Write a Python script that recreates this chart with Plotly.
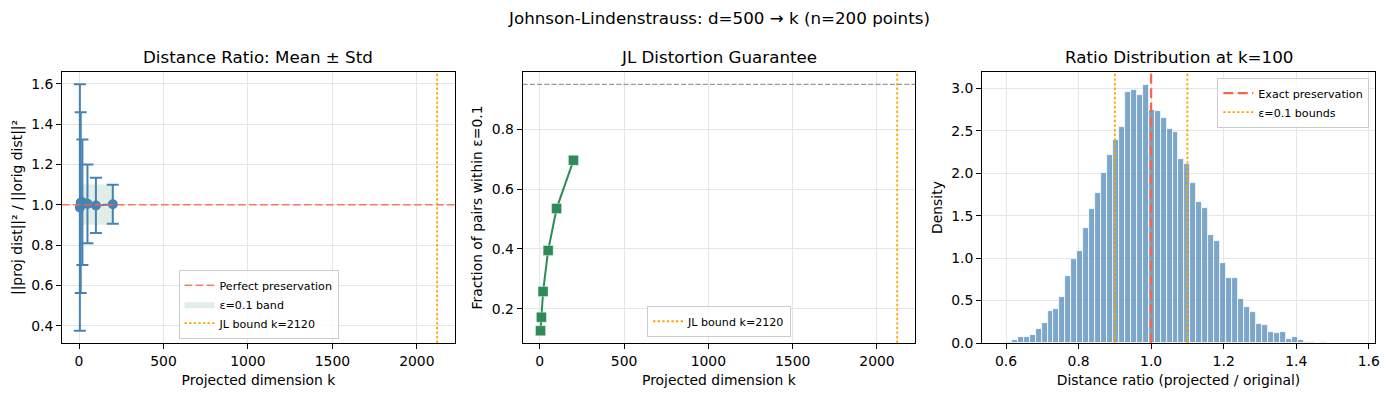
import numpy as np
import plotly.graph_objects as go

# ---------------- data ----------------
ks = [5, 10, 20, 50, 100, 200]
ratio_mean = [0.986, 1.010, 1.012, 1.004, 0.996, 1.002]
ratio_std = [0.611, 0.448, 0.311, 0.195, 0.137, 0.097]
frac_within = [0.127, 0.172, 0.258, 0.395, 0.535, 0.696]
eps = 0.1
jl_bound = 2120
target_frac = 0.95

hist_min = 0.583
hist_max = 1.568
n_bins = 60
hist_density = [
    0.003, 0.01, 0.03, 0.067, 0.067, 0.10, 0.16, 0.23, 0.38, 0.40,
    0.545, 0.79, 0.99, 1.08, 1.35, 1.58, 1.77, 2.0, 2.215, 2.39,
    2.545, 2.96, 2.98, 2.92, 3.04, 2.75, 2.73, 2.65, 2.52, 2.49,
    2.165, 2.11, 1.89, 1.655, 1.585, 1.27, 1.20, 0.94, 0.76, 0.76,
    0.52, 0.42, 0.36, 0.22, 0.215, 0.125, 0.12, 0.125, 0.05, 0.067,
    0.04, 0.016, 0.016, 0.003, 0.016, 0.0, 0.0, 0.0, 0.0, 0.003,
]

suptitle = "Johnson-Lindenstrauss: d=500 → k (n=200 points)"
titles = ["Distance Ratio: Mean ± Std", "JL Distortion Guarantee", "Ratio Distribution at k=100"]

# ---------------- style ----------------
FONT = "DejaVu Sans"
TICK = 13.9
LAB = 13.9
TTL = 16.7
LEG = 11.1
STEEL = "steelblue"
SEA = "#2E8B57"
TOMATO = "tomato"
ORANGE = "orange"
GRID = "#e6e6e6"
DOT = dict(color=ORANGE, width=1.8, dash="2.4px,2.2px")

edges = np.linspace(hist_min, hist_max, n_bins + 1)
centers = (edges[:-1] + edges[1:]) / 2
bw = edges[1] - edges[0]

fig = go.Figure()

# subplot 1
fig.add_trace(go.Scatter(
    x=[ks[0], ks[-1], ks[-1], ks[0], ks[0]],
    y=[1 - eps, 1 - eps, 1 + eps, 1 + eps, 1 - eps],
    fill="toself", fillcolor="rgba(46,139,87,0.15)", mode="lines",
    line=dict(width=0, color="rgba(46,139,87,0.15)"),
    name="ε=0.1 band", legend="legend", legendrank=2,
    xaxis="x", yaxis="y", hoverinfo="skip"))
fig.add_trace(go.Scatter(
    x=ks, y=ratio_mean, mode="lines+markers",
    error_y=dict(type="data", array=ratio_std, color=STEEL, thickness=2, width=6),
    line=dict(color=STEEL, width=2), marker=dict(color=STEEL, size=10),
    showlegend=False, xaxis="x", yaxis="y"))

# subplot 2
fig.add_trace(go.Scatter(
    x=ks, y=frac_within, mode="lines+markers",
    line=dict(color=SEA, width=2),
    marker=dict(color=SEA, size=10, symbol="square", line=dict(color="rgba(255,255,255,0.6)", width=0.6)),
    showlegend=False, xaxis="x2", yaxis="y2"))

# subplot 3
fig.add_trace(go.Bar(
    x=centers, y=hist_density, width=bw,
    marker=dict(color="rgba(70,130,180,0.7)", line=dict(color="white", width=0.8)),
    showlegend=False, xaxis="x3", yaxis="y3"))

shapes = [
    dict(type="line", xref="x domain", x0=0, x1=1, yref="y", y0=1, y1=1,
         line=dict(color=TOMATO, width=1.5, dash="7.7px,3.3px"), opacity=0.85,
         showlegend=True, name="Perfect preservation", legend="legend", legendrank=1),
    dict(type="line", xref="x", x0=jl_bound, x1=jl_bound, yref="y domain", y0=0, y1=1,
         line=DOT, showlegend=True, name=f"JL bound k={jl_bound}", legend="legend", legendrank=3),
    dict(type="line", xref="x2 domain", x0=0, x1=1, yref="y2", y0=target_frac, y1=target_frac,
         line=dict(color="gray", width=1, dash="5px,2.2px"), showlegend=False),
    dict(type="line", xref="x2", x0=jl_bound, x1=jl_bound, yref="y2 domain", y0=0, y1=1,
         line=DOT, showlegend=True, name=f"JL bound k={jl_bound}", legend="legend2"),
    dict(type="line", xref="x3", x0=1.0, x1=1.0, yref="y3 domain", y0=0, y1=1,
         line=dict(color=TOMATO, width=2.2, dash="10px,4.4px"),
         showlegend=True, name="Exact preservation", legend="legend3", legendrank=1),
    dict(type="line", xref="x3", x0=1 - eps, x1=1 - eps, yref="y3 domain", y0=0, y1=1,
         line=DOT, showlegend=True, name=f"ε={eps} bounds", legend="legend3", legendrank=2),
    dict(type="line", xref="x3", x0=1 + eps, x1=1 + eps, yref="y3 domain", y0=0, y1=1,
         line=DOT, showlegend=False),
]

ax_common = dict(showline=True, mirror=True, linecolor="black", linewidth=1,
                 ticks="outside", ticklen=5, tickwidth=1, tickcolor="black",
                 showgrid=True, gridcolor=GRID, gridwidth=0.8, zeroline=False,
                 automargin=False,
                 tickfont=dict(size=TICK, color="black", family=FONT))

doms = [[0.0, 0.2993], [0.3509, 0.6497], [0.7007, 1.0]]

k_lo, k_hi = ks[0], jl_bound
k_pad = 0.05 * (k_hi - k_lo)
xr12 = [k_lo - k_pad, k_hi + k_pad]
h_pad = 0.05 * (hist_max - hist_min)

y1_lo = min(m - s for m, s in zip(ratio_mean, ratio_std))
y1_hi = max(m + s for m, s in zip(ratio_mean, ratio_std))
y1_pad = 0.05 * (y1_hi - y1_lo)
y2_lo, y2_hi = min(frac_within), target_frac
y2_pad = 0.05 * (y2_hi - y2_lo)
y3_hi = max(hist_density) * 1.05

lab = lambda t: dict(text=t, font=dict(size=LAB, color="black", family=FONT))

# page body has an 8px margin -> figure is shifted by 8px; size compensates
fig.update_layout(
    width=1372, height=380,
    margin=dict(l=54, r=5, t=64, b=45),
    paper_bgcolor="white", plot_bgcolor="white",
    font=dict(family=FONT, color="black"),
    showlegend=True,
    xaxis=dict(domain=doms[0], range=xr12, dtick=500, tick0=0, anchor="y",
               title=dict(lab("Projected dimension k"), standoff=8), **ax_common),
    yaxis=dict(range=[y1_lo - y1_pad, y1_hi + y1_pad], dtick=0.2, tick0=0, tickformat=".1f", anchor="x",
               title=dict(lab("||proj dist||² / ||orig dist||²"), standoff=5), **ax_common),
    xaxis2=dict(domain=doms[1], range=xr12, dtick=500, tick0=0, anchor="y2",
                title=dict(lab("Projected dimension k"), standoff=8), **ax_common),
    yaxis2=dict(range=[y2_lo - y2_pad, y2_hi + y2_pad], dtick=0.2, tick0=0, tickformat=".1f", anchor="x2",
                title=dict(lab("Fraction of pairs within ε=0.1"), standoff=5), **ax_common),
    xaxis3=dict(domain=doms[2], range=[hist_min - h_pad, hist_max + h_pad], dtick=0.2, tick0=0,
                tickformat=".1f", anchor="y3",
                title=dict(lab("Distance ratio (projected / original)"), standoff=8), **ax_common),
    yaxis3=dict(range=[0, y3_hi], dtick=0.5, tick0=0, tickformat=".1f", anchor="x3",
                title=dict(lab("Density"), standoff=5), **ax_common),
    shapes=shapes,
    bargap=0,
)

leg_common = dict(bgcolor="rgba(255,255,255,0.8)", bordercolor="#cccccc", borderwidth=1,
                  font=dict(size=LEG, family=FONT, color="black"), traceorder="normal",
                  itemwidth=30)
fig.update_layout(
    legend=dict(x=0.1497, y=0.016, xanchor="center", yanchor="bottom", **leg_common),
    legend2=dict(x=0.5004, y=0.023, xanchor="center", yanchor="bottom", **leg_common),
    legend3=dict(x=0.9957, y=0.979, xanchor="right", yanchor="top", **leg_common),
)

annos = []
for d, t in zip(doms, titles):
    annos.append(dict(text=t, x=(d[0] + d[1]) / 2, y=1, xref="paper", yref="paper",
                      xanchor="center", yanchor="bottom", yshift=3, showarrow=False,
                      font=dict(size=TTL, color="black", family=FONT)))
annos.append(dict(text=suptitle, x=0.5, y=1.198, xref="paper", yref="paper",
                  xanchor="center", yanchor="middle", showarrow=False,
                  font=dict(size=TTL, color="black", family=FONT)))
fig.update_layout(annotations=annos)

fig.write_html("out.html")
